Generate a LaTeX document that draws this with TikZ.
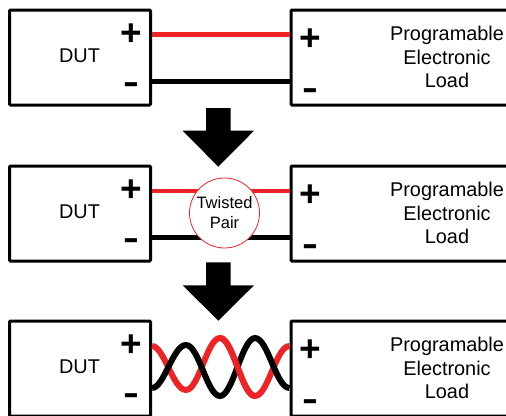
\documentclass[tikz,border=0pt]{standalone}
\usepackage{fontspec}
\setmainfont{Liberation Sans}
\definecolor{wirered}{HTML}{EE2326}
\tikzset{
  box/.style={draw=black,line width=3pt,rounded corners=1pt,minimum height=95pt,inner sep=0pt,outer sep=0pt,anchor=north west},
  dutbox/.style={box,minimum width=141pt},
  loadbox/.style={box,minimum width=240pt},
  lbl/.style={font=\fontsize{19.9pt}{23.5pt}\selectfont,align=center,inner sep=0pt},
  sign/.style={font=\fontsize{37pt}{37pt}\selectfont\bfseries,inner sep=0pt},
  minussign/.style={font=\fontsize{34pt}{34pt}\selectfont\bfseries,inner sep=0pt},
  redwire/.style={draw=wirered,line width=4.8pt},
  blackwire/.style={draw=black,line width=4.8pt},
  redtwist/.style={draw=wirered,line width=6pt},
  blacktwist/.style={draw=black,line width=6pt},
  bigarrow/.style={fill=black,draw=none},
  badge/.style={circle,draw=wirered,fill=white,line width=0.8pt,minimum size=70pt,inner sep=0pt,outer sep=0pt,align=center,font=\fontsize{16.5pt}{20pt}\selectfont}
}
\begin{document}
\begin{tikzpicture}[x=1pt,y=-1pt]
\useasboundingbox (0,0) rectangle (506,415);
\clip (0,0) rectangle (506,415);
\foreach \n/\t in {a/10,b/166,c/321}{
  \node[dutbox] (dut\n) at (9.5,\t) {};
  \node[loadbox] (load\n) at (291,\t) {};
  \node[lbl] at ([shift={(70,46)}]dut\n.north west) {DUT};
  \node[lbl] at ([shift={(156,47)}]load\n.north west) {Programable\\Electronic\\Load};
  \node[sign] (dutplus\n) at ([shift={(121.5,24.5)}]dut\n.north west) {+};
  \node[minussign] (dutminus\n) at ([shift={(121.5,78)}]dut\n.north west) {\scalebox{1.4}[1]{-}};
  \node[sign] (loadplus\n) at ([shift={(19,29.5)}]load\n.north west) {+};
  \node[minussign] (loadminus\n) at ([shift={(19,84)}]load\n.north west) {\scalebox{1.4}[1]{-}};
}
\coordinate (ra1) at (152,34.7); \coordinate (ra2) at (289.5,34.7);
\coordinate (ba1) at (152,81.7); \coordinate (ba2) at (289.5,81.7);
\coordinate (rb1) at (152,191); \coordinate (rb2) at (289.5,191);
\coordinate (bb1) at (152,237.7); \coordinate (bb2) at (289.5,237.7);
\draw[redwire] (ra1) -- (ra2);
\draw[blackwire] (ba1) -- (ba2);
\draw[redwire] (rb1) -- (rb2);
\draw[blackwire] (bb1) -- (bb2);
\node[badge] (tp) at (224.5,213) {Twisted\\Pair};
\fill[bigarrow] (206,108) -- (230.7,108) -- (230.7,130.7) -- (254,130.7) -- (218.3,166.7) -- (182.7,130.7) -- (206,130.7) -- cycle;
\fill[bigarrow] (206,262.3) -- (230.7,262.3) -- (230.7,285.3) -- (254,285.3) -- (218.3,320.7) -- (182.7,285.3) -- (206,285.3) -- cycle;
\draw[redtwist] (152,346) .. controls (164,346) and (173,390) .. (186,390) .. controls (199,390) and (207,338) .. (220,338) .. controls (233,338) and (242,396) .. (255,396) .. controls (268,396) and (276,346) .. (289.5,346);
\draw[blacktwist] (152,388) .. controls (164,388) and (173,345) .. (186,345) .. controls (199,345) and (207,396) .. (220,396) .. controls (233,396) and (242,338) .. (255,338) .. controls (268,338) and (276,388) .. (289.5,388);
\draw[redtwist] (220,338) .. controls (233,338) and (242,396) .. (255,396);
\end{tikzpicture}
\end{document}
